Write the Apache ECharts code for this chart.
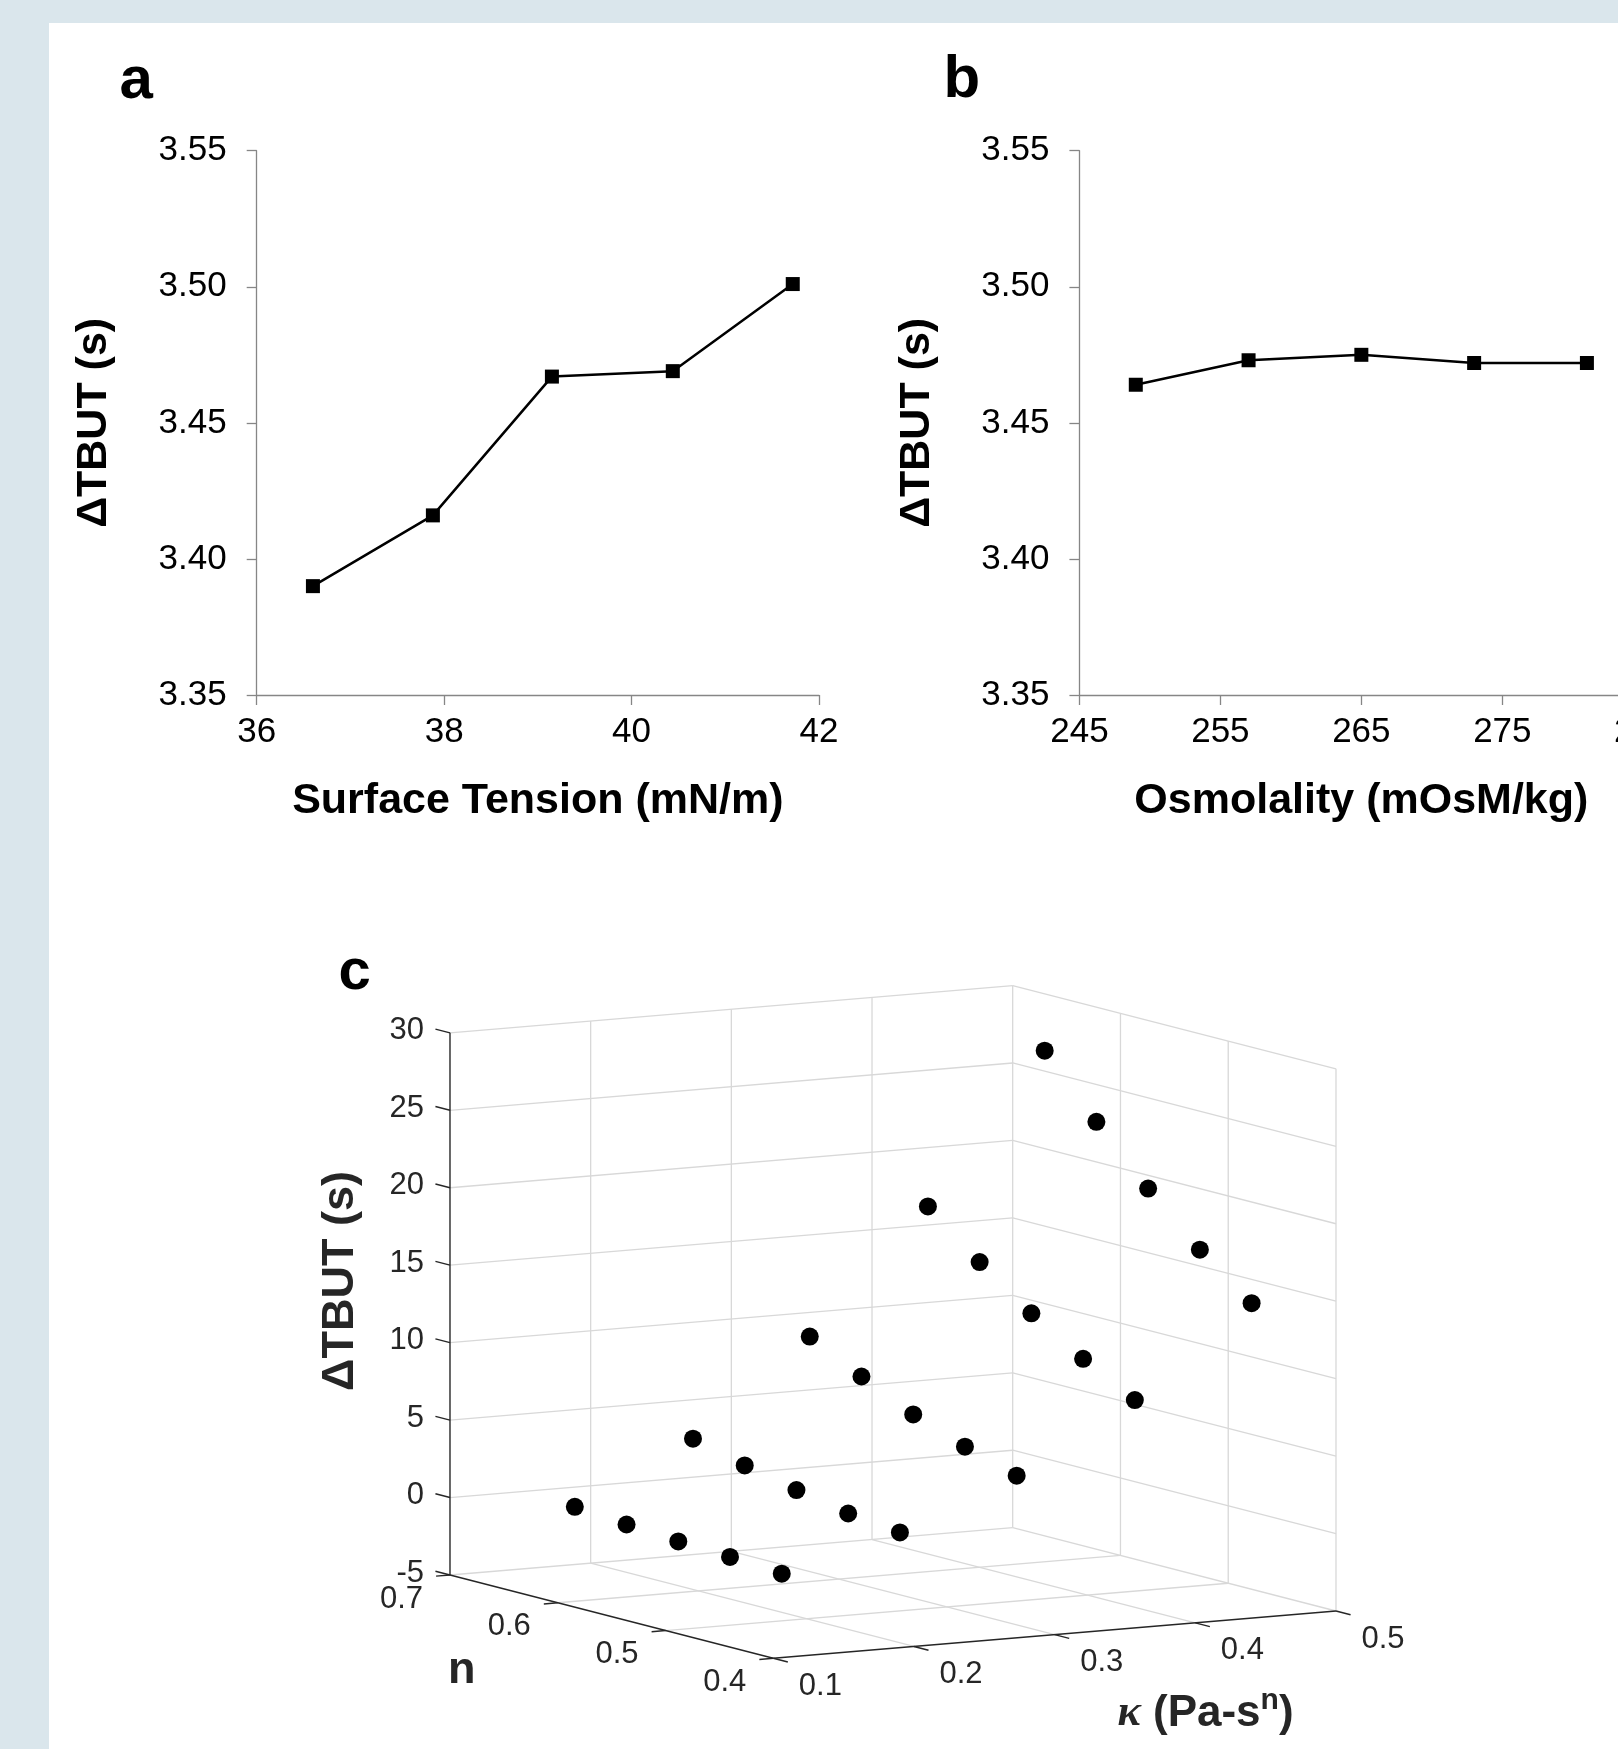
<!DOCTYPE html>
<html><head><meta charset="utf-8">
<script src="https://cdn.jsdelivr.net/npm/echarts@6/dist/echarts.min.js"></script>
<style>
html,body{margin:0;padding:0;background:#dae6ec;}
#panel{position:absolute;left:49px;top:23px;width:1569px;height:1726px;background:#ffffff;}
#chart{position:absolute;left:0;top:0;width:1618px;height:1749px;}
</style></head><body>
<div id="panel"></div>
<div id="chart"></div>
<script>
// ---------- Panel a ----------
const surfaceTension = [36.6, 37.88, 39.15, 40.44, 41.72];
const dtbutA = [3.390, 3.416, 3.467, 3.469, 3.501];
const xTicksA = [36, 38, 40, 42];
// ---------- Panel b ----------
const osmolality = [249, 257, 265, 273, 281];
const dtbutB = [3.464, 3.473, 3.475, 3.472, 3.472];
const xTicksB = [245, 255, 265, 275, 285];
const yTicksAB = [3.35, 3.40, 3.45, 3.50, 3.55];
// ---------- Panel c ----------
const kappaC = [0.106, 0.106, 0.106, 0.106, 0.106,
                0.19, 0.19, 0.19, 0.19, 0.19,
                0.273, 0.273, 0.273, 0.273, 0.273,
                0.357, 0.357, 0.357, 0.357, 0.357,
                0.44, 0.44, 0.44, 0.44, 0.44];
const nC = [0.592, 0.544, 0.496, 0.448, 0.4,
            0.592, 0.544, 0.496, 0.448, 0.4,
            0.592, 0.544, 0.496, 0.448, 0.4,
            0.592, 0.544, 0.496, 0.448, 0.4,
            0.592, 0.544, 0.496, 0.448, 0.4];
const dtbutC = [1.29, 1.01, 0.78, 0.64, 0.42,
                5.05, 4.18, 3.45, 2.80, 2.44,
                11.01, 9.29, 7.70, 6.48, 5.47,
                18.77, 16.04, 13.59, 11.51, 9.71,
                28.19, 24.46, 21.01, 17.92, 15.33];
const kTicks = [0.1, 0.2, 0.3, 0.4, 0.5];
const nTicks = [0.4, 0.5, 0.6, 0.7];
const zTicks = [-5, 0, 5, 10, 15, 20, 25, 30];

// ---------- layout / style ----------
const FONT = "'Liberation Sans', Arial, Helvetica, sans-serif";
const AX_GRAY = '#868686';
const C_DARK = '#262626';
const C_GRID = '#d8d8d8';
const W = 1618, H = 1749;
// orthographic view of panel c (screen px per data unit)
const VIEW = {ox: 773.3, oy: 1658.3, kx: 1406.75, ky: -118.25, nx: -1077.7, ny: -277.7, zy: -15.49};
const kMin = kTicks[0], kMax = kTicks[kTicks.length - 1];
const nMin = nTicks[0], nMax = nTicks[nTicks.length - 1];
const zMin = zTicks[0], zMax = zTicks[zTicks.length - 1];
function proj(k, n, z) {
  return [VIEW.ox + VIEW.kx * (k - kMin) + VIEW.nx * (n - nMin),
          VIEW.oy + VIEW.ky * (k - kMin) + VIEW.ny * (n - nMin) + VIEW.zy * (z - zMin)];
}

// grid segments on back walls and floor
const gridSegs = [];
zTicks.forEach(z => { gridSegs.push([kMin, nMax, z, kMax, nMax, z]); gridSegs.push([kMax, nMax, z, kMax, nMin, z]); });
kTicks.slice(1).forEach(k => gridSegs.push([k, nMax, zMin, k, nMax, zMax]));
nTicks.slice(0, -1).forEach(n => gridSegs.push([kMax, n, zMin, kMax, n, zMax]));
kTicks.slice(1, -1).forEach(k => gridSegs.push([k, nMin, zMin, k, nMax, zMin]));
nTicks.slice(1, -1).forEach(n => gridSegs.push([kMin, n, zMin, kMax, n, zMin]));
const axisSegs = [[kMin, nMax, zMin, kMin, nMax, zMax], [kMin, nMax, zMin, kMin, nMin, zMin], [kMin, nMin, zMin, kMax, nMin, zMin]];
const tickSegs = [];
zTicks.forEach(z => tickSegs.push([kMin, nMax, z, kMin, nMax + 0.0135, z]));
nTicks.forEach(n => tickSegs.push([kMin, n, zMin, kMin - 0.0099, n, zMin]));
kTicks.forEach(k => tickSegs.push([k, nMin, zMin, k, nMin - 0.0135, zMin]));

function segSeries(data, color, width, z) {
  return {
    type: 'custom', coordinateSystem: 'cartesian2d', xAxisIndex: 2, yAxisIndex: 2,
    dimensions: ['k1', 'n1', 'z1', 'k2', 'n2', 'z2'], encode: {x: 0, y: 1},
    data: data, silent: true, z: z, animation: false, clip: false,
    renderItem: function (params, api) {
      const a = api.coord(proj(api.value(0), api.value(1), api.value(2)));
      const b = api.coord(proj(api.value(3), api.value(4), api.value(5)));
      return {type: 'line', shape: {x1: a[0], y1: a[1], x2: b[0], y2: b[1]},
              style: {stroke: color, lineWidth: width}};
    }
  };
}
function labelSeries(ticks, anchor, dx, dy, align, fmt) {
  return {
    type: 'custom', coordinateSystem: 'cartesian2d', xAxisIndex: 2, yAxisIndex: 2,
    dimensions: ['v', 'd'], encode: {x: 0, y: 1},
    data: ticks.map(v => [v, 0]), silent: true, z: 5, animation: false, clip: false,
    renderItem: function (params, api) {
      const v = api.value(0);
      const p = api.coord(anchor(v));
      return {type: 'text', x: p[0] + dx, y: p[1] + dy,
              style: {text: fmt(v), fill: C_DARK, fontSize: 31, fontFamily: FONT,
                      align: align, textAlign: align, verticalAlign: 'middle', textVerticalAlign: 'middle'}};
    }
  };
}

function xAxisAB(grid, min, max, ticks, name) {
  return {
    gridIndex: grid, type: 'value', min: min, max: max,
    axisLine: {show: true, onZero: false, lineStyle: {color: AX_GRAY, width: 1.3}},
    axisTick: {show: true, inside: false, length: 10, customValues: ticks, lineStyle: {color: AX_GRAY, width: 1.3}},
    axisLabel: {show: true, customValues: ticks, fontSize: 35, fontFamily: FONT, color: '#000', margin: 20},
    splitLine: {show: false},
    name: name, nameLocation: 'middle', nameGap: 85,
    nameTextStyle: {fontSize: 43, fontWeight: 'bold', fontFamily: FONT, color: '#000'}
  };
}
function yAxisAB(grid) {
  return {
    gridIndex: grid, type: 'value', min: yTicksAB[0], max: yTicksAB[yTicksAB.length - 1],
    axisLine: {show: true, onZero: false, lineStyle: {color: AX_GRAY, width: 1.3}},
    axisTick: {show: true, inside: false, length: 10, customValues: yTicksAB, lineStyle: {color: AX_GRAY, width: 1.3}},
    axisLabel: {show: true, customValues: yTicksAB, fontSize: 35, fontFamily: FONT, color: '#000', margin: 30,
                formatter: v => Number(v).toFixed(2)},
    splitLine: {show: false},
    name: 'ΔTBUT (s)', nameLocation: 'middle', nameGap: 141, nameRotate: 90,
    nameTextStyle: {fontSize: 43, fontWeight: 'bold', fontFamily: FONT, color: '#000'}
  };
}
function lineSeries(ax, xs, ys) {
  return {
    type: 'line', xAxisIndex: ax, yAxisIndex: ax, data: xs.map((x, i) => [x, ys[i]]),
    symbol: 'rect', symbolSize: 14, showSymbol: true,
    lineStyle: {color: '#000', width: 2.5}, itemStyle: {color: '#000', opacity: 1}, z: 3, animation: false
  };
}
function panelLetter(t, x, y, size) {
  return {type: 'text', x: x, y: y, z: 10,
          style: {text: t, fill: '#000', fontSize: size, fontWeight: 'bold', fontFamily: FONT,
                  align: 'left', textAlign: 'left', verticalAlign: 'middle', textVerticalAlign: 'middle'}};
}

const chart = echarts.init(document.getElementById('chart'), null, {renderer: 'canvas', width: W, height: H});
chart.setOption({
  backgroundColor: 'transparent',
  animation: false,
  grid: [
    {left: 256.7, top: 150.7, width: 562.3, height: 544.3, containLabel: false, outerBoundsMode: 'none'},
    {left: 1079.4, top: 150.7, width: 563.9, height: 544.3, containLabel: false, outerBoundsMode: 'none'},
    {left: 0, top: 0, width: W, height: H, containLabel: false, outerBoundsMode: 'none'}
  ],
  xAxis: [
    xAxisAB(0, 36, 42, xTicksA, 'Surface Tension (mN/m)'),
    xAxisAB(1, 245, 285, xTicksB, 'Osmolality (mOsM/kg)'),
    {gridIndex: 2, type: 'value', min: 0, max: W, show: false}
  ],
  yAxis: [
    yAxisAB(0), yAxisAB(1),
    {gridIndex: 2, type: 'value', min: 0, max: H, inverse: true, show: false}
  ],
  series: [
    lineSeries(0, surfaceTension, dtbutA),
    lineSeries(1, osmolality, dtbutB),
    segSeries(gridSegs, C_GRID, 1.3, 1),
    segSeries(axisSegs, C_DARK, 1.4, 2),
    segSeries(tickSegs, C_DARK, 1.4, 2),
    labelSeries(zTicks, v => proj(kMin, nMax, v), -26, -2, 'right', v => String(v)),
    labelSeries(nTicks, v => proj(kMin, v, zMin), -27, 24, 'right', v => v.toFixed(1)),
    labelSeries(kTicks, v => proj(v, nMin, zMin), 25.5, 28, 'left', v => v.toFixed(1)),
    {
      type: 'scatter', xAxisIndex: 2, yAxisIndex: 2,
      data: kappaC.map((k, i) => proj(k, nC[i], dtbutC[i])),
      symbol: 'circle', symbolSize: 18, itemStyle: {color: '#000', opacity: 1}, z: 6, animation: false, silent: true
    }
  ],
  graphic: [
    panelLetter('a', 119.5, 81.4, 60),
    panelLetter('b', 943.6, 80.8, 60),
    panelLetter('c', 338.5, 973, 58),
    {type: 'text', x: 341, y: 1281, rotation: Math.PI / 2, z: 10,
     style: {text: 'ΔTBUT (s)', fill: C_DARK, fontSize: 45, fontWeight: 'bold', fontFamily: FONT,
             align: 'center', textAlign: 'center', verticalAlign: 'middle', textVerticalAlign: 'middle'}},
    {type: 'text', x: 461.7, y: 1671, z: 10,
     style: {text: 'n', fill: C_DARK, fontSize: 45, fontWeight: 'bold', fontFamily: FONT,
             align: 'center', textAlign: 'center', verticalAlign: 'middle', textVerticalAlign: 'middle'}},
    {type: 'text', x: 1205.5, y: 1714, z: 10,
     style: {text: '{k|κ}{m| (Pa-s}{s|n}{m|)}', fill: C_DARK, fontSize: 44, fontWeight: 'bold', fontFamily: FONT,
             align: 'center', textAlign: 'center', verticalAlign: 'middle', textVerticalAlign: 'middle',
             rich: {
               k: {fontSize: 44, fontStyle: 'italic', fontWeight: 'bold', fontFamily: "'Liberation Serif', serif", fill: C_DARK, lineHeight: 56},
               m: {fontSize: 44, fontWeight: 'bold', fontFamily: FONT, fill: C_DARK, lineHeight: 56},
               s: {fontSize: 30, fontWeight: 'bold', fontFamily: FONT, fill: C_DARK, lineHeight: 30, verticalAlign: 'top'}
             }}}
  ]
});
</script>
</body></html>
